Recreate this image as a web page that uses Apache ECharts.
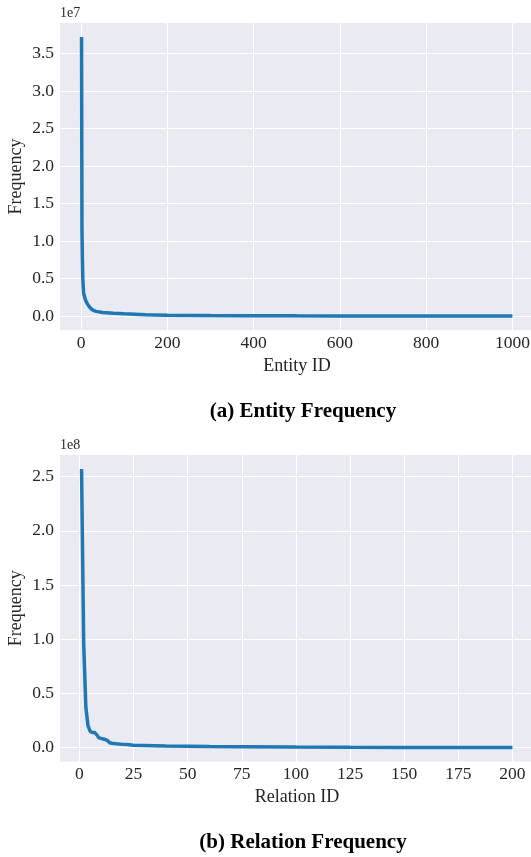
<!DOCTYPE html>
<html>
<head>
<meta charset="utf-8">
<script src="https://cdn.jsdelivr.net/npm/echarts@6/dist/echarts.min.js"></script>
<style>
html,body{margin:0;padding:0;background:#fff;}
#c{width:531px;height:857px;}
</style>
</head>
<body>
<div id="c"></div>
<script>
const entityIds = [1, 2, 3, 4, 5, 6, 8, 10, 12, 15, 20, 25, 30, 35, 50, 75, 100, 150, 200, 300, 400, 500, 600, 800, 1000];
const entityFreq = [3.72e7, 1.15e7, 0.75e7, 0.5e7, 0.38e7, 0.3e7, 0.26e7, 0.22e7, 0.19e7, 0.16e7, 0.12e7, 0.09e7, 0.075e7, 0.065e7, 0.05e7, 0.04e7, 0.032e7, 0.02e7, 0.015e7, 0.01e7, 0.008e7, 0.006e7, 0.005e7, 0.004e7, 0.003e7];
// Relation frequency
const relationIds = [1, 2, 3, 4, 5, 6, 7, 8, 9, 10, 11, 12, 13, 14, 15, 17, 20, 22, 25, 30, 40, 50, 60, 75, 100, 125, 150, 175, 200];
const relationFreq = [2.57e8, 0.95e8, 0.37e8, 0.2e8, 0.15e8, 0.14e8, 0.14e8, 0.12e8, 0.09e8, 0.085e8, 0.08e8, 0.075e8, 0.065e8, 0.045e8, 0.04e8, 0.035e8, 0.03e8, 0.028e8, 0.022e8, 0.02e8, 0.016e8, 0.013e8, 0.01e8, 0.008e8, 0.005e8, 0.003e8, 0.002e8, 0.0015e8, 0.001e8];
// Tick labels
const entityXTicks = [0, 200, 400, 600, 800, 1000];
const entityYTicks = [0, 0.5e7, 1.0e7, 1.5e7, 2.0e7, 2.5e7, 3.0e7, 3.5e7];
const relationXTicks = [0, 25, 50, 75, 100, 125, 150, 175, 200];
const relationYTicks = [0, 0.5e8, 1.0e8, 1.5e8, 2.0e8, 2.5e8];

const FONT = 'Liberation Serif';
const TXT = '#262626';
const chart = echarts.init(document.getElementById('c'), null, {renderer: 'canvas'});

function xAx(gi, min, max, ticks, name) {
  return {
    type: 'value', gridIndex: gi, min: min, max: max,
    name: name, nameLocation: 'middle', nameGap: 27, nameMoveOverlap: false,
    nameTextStyle: {fontFamily: FONT, fontSize: 18, color: TXT},
    axisLine: {show: false}, axisTick: {show: false, customValues: ticks},
    axisLabel: {customValues: ticks, fontFamily: FONT, fontSize: 17.5, color: TXT, margin: 4,
      formatter: v => String(v)},
    splitLine: {show: true, lineStyle: {color: '#ffffff', width: 1}}
  };
}
function yAx(gi, min, max, ticks, scale) {
  return {
    type: 'value', gridIndex: gi, min: min, max: max,
    name: 'Frequency', nameLocation: 'middle', nameGap: 35, nameMoveOverlap: false,
    nameTextStyle: {fontFamily: FONT, fontSize: 18, color: TXT},
    axisLine: {show: false}, axisTick: {show: false, customValues: ticks},
    axisLabel: {customValues: ticks, fontFamily: FONT, fontSize: 17.5, color: TXT, margin: 6,
      formatter: v => (v / scale).toFixed(1)},
    splitLine: {show: true, lineStyle: {color: '#ffffff', width: 1}}
  };
}

chart.setOption({
  animation: false,
  backgroundColor: '#ffffff',
  grid: [
    {left: 60, top: 23, width: 474, height: 307, backgroundColor: '#EAEAF2', show: true, borderWidth: 0, containLabel: false, outerBoundsMode: 'none'},
    {left: 60, top: 455, width: 474, height: 306.5, backgroundColor: '#EAEAF2', show: true, borderWidth: 0, containLabel: false, outerBoundsMode: 'none'}
  ],
  xAxis: [
    xAx(0, -48.95, 1049.95, entityXTicks, 'Entity ID'),
    xAx(1, -8.95, 209.95, relationXTicks, 'Relation ID')
  ],
  yAxis: [
    yAx(0, -0.183e7, 3.906e7, entityYTicks, 1e7),
    yAx(1, -0.128e8, 2.70e8, relationYTicks, 1e8)
  ],
  series: [
    {type: 'line', xAxisIndex: 0, yAxisIndex: 0, showSymbol: false, smooth: false,
     lineStyle: {color: '#1f77b4', width: 3.5}, itemStyle: {color: '#1f77b4'},
     data: entityIds.map((x, i) => [x, entityFreq[i]])},
    {type: 'line', xAxisIndex: 1, yAxisIndex: 1, showSymbol: false, smooth: false,
     lineStyle: {color: '#1f77b4', width: 3.5}, itemStyle: {color: '#1f77b4'},
     data: relationIds.map((x, i) => [x, relationFreq[i]])}
  ],
  graphic: [
    {type: 'text', left: 60, top: 6, style: {text: '1e7', font: '14px "Liberation Serif"', fill: TXT}},
    {type: 'text', left: 60, top: 438, style: {text: '1e8', font: '14px "Liberation Serif"', fill: TXT}},
    {type: 'text', x: 303, y: 412, style: {text: '(a) Entity Frequency', font: 'bold 21px "Liberation Serif"', fill: '#000', align: 'center', verticalAlign: 'middle'}},
    {type: 'text', x: 303, y: 843, style: {text: '(b) Relation Frequency', font: 'bold 21px "Liberation Serif"', fill: '#000', align: 'center', verticalAlign: 'middle'}}
  ]
});
</script>
</body>
</html>
